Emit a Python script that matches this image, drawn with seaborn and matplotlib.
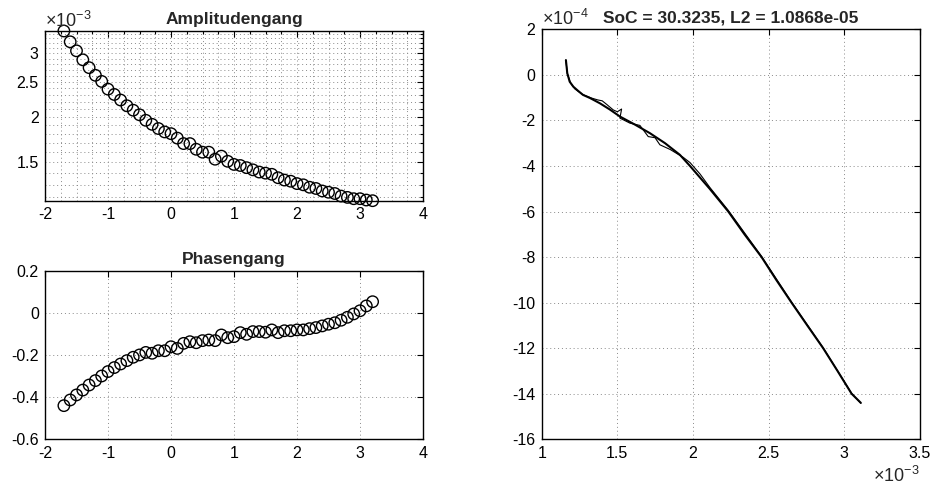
import numpy as np
import pandas as pd
import matplotlib
matplotlib.use("Agg")
import matplotlib.pyplot as plt
import matplotlib.ticker as mticker
import seaborn as sns

# ---------------- data ----------------
log_freq = [-1.7, -1.6, -1.5, -1.4, -1.3, -1.2, -1.1, -1.0, -0.9, -0.8,
            -0.7, -0.6, -0.5, -0.4, -0.3, -0.2, -0.1, 0.0, 0.1, 0.2,
            0.3, 0.4, 0.5, 0.6, 0.7, 0.8, 0.9, 1.0, 1.1, 1.2,
            1.3, 1.4, 1.5, 1.6, 1.7, 1.8, 1.9, 2.0, 2.1, 2.2,
            2.3, 2.4, 2.5, 2.6, 2.7, 2.8, 2.9, 3.0, 3.1, 3.2]

# amplitude in units of 1e-3
amplitude_e3 = [3.46, 3.23, 3.05, 2.88, 2.74, 2.61, 2.51, 2.39, 2.31, 2.23,
                2.15, 2.09, 2.03, 1.96, 1.91, 1.86, 1.82, 1.80, 1.75, 1.69,
                1.69, 1.63, 1.60, 1.60, 1.53, 1.56, 1.51, 1.48, 1.47, 1.45,
                1.43, 1.41, 1.40, 1.39, 1.36, 1.34, 1.33, 1.31, 1.30, 1.28,
                1.27, 1.25, 1.24, 1.23, 1.21, 1.20, 1.19, 1.19, 1.18, 1.175]

phase = [-0.440, -0.413, -0.389, -0.366, -0.342, -0.321, -0.299, -0.278, -0.259, -0.242,
         -0.226, -0.210, -0.199, -0.187, -0.191, -0.179, -0.179, -0.160, -0.168, -0.144,
         -0.136, -0.141, -0.131, -0.128, -0.131, -0.104, -0.117, -0.112, -0.093, -0.101,
         -0.088, -0.088, -0.091, -0.080, -0.093, -0.084, -0.084, -0.080, -0.080, -0.074,
         -0.069, -0.061, -0.053, -0.046, -0.034, -0.020, -0.004, 0.011, 0.034, 0.054]

# Nyquist: real part in 1e-3, imaginary part in 1e-4
fit_re_e3 = [1.160, 1.169, 1.185, 1.209, 1.240, 1.273, 1.320, 1.385, 1.450, 1.517,
             1.615, 1.715, 1.815, 1.913, 1.980, 2.110, 2.233, 2.340, 2.453, 2.550,
             2.651, 2.755, 2.860, 2.955, 3.048, 3.109]
fit_im_e4 = [0.65, 0.07, -0.30, -0.52, -0.70, -0.88, -1.02, -1.25, -1.52, -1.83,
             -2.18, -2.56, -3.00, -3.51, -4.00, -5.00, -6.00, -7.00, -8.00, -9.00,
             -10.00, -11.00, -12.00, -13.00, -14.00, -14.40]

meas_re_e3 = [1.160, 1.170, 1.190, 1.220, 1.270, 1.330, 1.370, 1.400, 1.430, 1.473,
              1.500, 1.528, 1.517, 1.583, 1.649, 1.704, 1.749, 1.781, 1.850, 1.892,
              1.935, 1.980, 2.046, 2.112, 2.233, 2.453, 2.651, 2.860, 3.048, 3.109]
meas_im_e4 = [0.60, 0.05, -0.35, -0.62, -0.86, -1.02, -1.10, -1.14, -1.30, -1.54,
              -1.62, -1.50, -1.90, -2.12, -2.22, -2.71, -2.76, -3.07, -3.28, -3.45,
              -3.62, -3.85, -4.35, -4.95, -5.95, -7.97, -9.97, -11.98, -13.98, -14.42]

title_amp = "Amplitudengang"
title_phase = "Phasengang"
title_nyq = "SoC = 30.3235, L2 = 1.0868e-05"

# ---------------- style ----------------
sns.set_theme(style="white")
plt.rcParams["font.family"] = ["Liberation Sans", "DejaVu Sans"]
plt.rcParams["axes.unicode_minus"] = False
plt.rcParams["mathtext.fontset"] = "custom"
plt.rcParams["mathtext.rm"] = "Liberation Sans"
plt.rcParams["mathtext.it"] = "Liberation Sans"
plt.rcParams["mathtext.bf"] = "Liberation Sans:bold"
plt.rcParams["xtick.direction"] = "in"
plt.rcParams["ytick.direction"] = "in"

W, H = 930, 488
fig = plt.figure(figsize=(W / 100, H / 100), dpi=100)
fig.patch.set_facecolor("white")


def pos(x0, y0, x1, y1):
    return [x0 / W, 1 - y1 / H, (x1 - x0) / W, (y1 - y0) / H]


ax1 = fig.add_axes(pos(45, 31, 423, 200.7))
ax2 = fig.add_axes(pos(45, 271, 423, 439.3))
ax3 = fig.add_axes(pos(541.7, 29.3, 920, 439.3))

grid_kw = dict(color="#8a8a8a", linestyle=(0, (1, 3)), linewidth=0.7)
TICK_FS = 11.5
TITLE_FS = 12.5
EXP_FS = 13


def style_axes(ax):
    ax.set_facecolor("white")
    for s in ax.spines.values():
        s.set_visible(True)
        s.set_color("black")
        s.set_linewidth(1.0)
    ax.tick_params(which="both", direction="in", top=True, right=True,
                   colors="black", labelsize=TICK_FS, length=4, width=0.8, pad=4.5)
    ax.tick_params(which="minor", length=2)
    ax.set_xlabel("")
    ax.set_ylabel("")


df = pd.DataFrame({"f": log_freq, "amp": amplitude_e3, "ph": phase})

# --- Amplitudengang ---
sns.scatterplot(data=df, x="f", y="amp", ax=ax1, marker="o", s=68,
                facecolors="none", edgecolor="black", linewidth=1.0, zorder=3,
                clip_on=False)
ax1.set_yscale("log")
ax1.set_xlim(-2, 4)
ax1.set_ylim(1.175, 3.46)
ax1.xaxis.set_major_locator(mticker.MultipleLocator(1))
ax1.xaxis.set_minor_locator(mticker.MultipleLocator(0.25))
ax1.yaxis.set_major_locator(mticker.FixedLocator([1.5, 2, 2.5, 3]))
ax1.yaxis.set_major_formatter(mticker.FixedFormatter(["1.5", "2", "2.5", "3"]))
ax1.yaxis.set_minor_locator(mticker.FixedLocator(
    [v / 10 for v in range(12, 35) if v not in (15, 20, 25, 30)]))
ax1.yaxis.set_minor_formatter(mticker.NullFormatter())
ax1.grid(True, which="both", **grid_kw)
style_axes(ax1)
ax1.set_title(title_amp, fontsize=TITLE_FS, fontweight="bold", pad=5)
ax1.text(0.0, 1.0, r"$\times10^{-3}$", transform=ax1.transAxes,
         ha="left", va="bottom", fontsize=EXP_FS)

# --- Phasengang ---
sns.scatterplot(data=df, x="f", y="ph", ax=ax2, marker="o", s=68,
                facecolors="none", edgecolor="black", linewidth=1.0, zorder=3)
ax2.set_xlim(-2, 4)
ax2.set_ylim(-0.6, 0.2)
ax2.xaxis.set_major_locator(mticker.MultipleLocator(1))
ax2.yaxis.set_major_locator(mticker.MultipleLocator(0.2))
ax2.yaxis.set_major_formatter(mticker.FuncFormatter(
    lambda v, p: "0" if abs(v) < 1e-9 else f"{v:.1f}"))
ax2.grid(True, which="major", **grid_kw)
style_axes(ax2)
ax2.set_title(title_phase, fontsize=TITLE_FS, fontweight="bold", pad=5)

# --- Nyquist ---
sns.lineplot(x=meas_re_e3, y=meas_im_e4, ax=ax3, sort=False, estimator=None,
             color="black", linewidth=0.8)
sns.lineplot(x=fit_re_e3, y=fit_im_e4, ax=ax3, sort=False, estimator=None,
             color="black", linewidth=1.5)
ax3.set_xlim(1, 3.5)
ax3.set_ylim(-16, 2)
ax3.xaxis.set_major_locator(mticker.MultipleLocator(0.5))
ax3.yaxis.set_major_locator(mticker.MultipleLocator(2))
ax3.xaxis.set_major_formatter(mticker.FuncFormatter(lambda v, p: f"{v:g}"))
ax3.yaxis.set_major_formatter(mticker.FuncFormatter(lambda v, p: f"{v:g}"))
ax3.grid(True, which="major", **grid_kw)
style_axes(ax3)
ax3.set_title(title_nyq, fontsize=TITLE_FS, fontweight="bold", pad=5)
ax3.text(0.0, 1.0, r"$\times10^{-4}$", transform=ax3.transAxes,
         ha="left", va="bottom", fontsize=EXP_FS)
fig.text(920 / W, 2 / H, r"$\times10^{-3}$", ha="right", va="bottom",
         fontsize=EXP_FS)

fig.savefig("out.png", dpi=100, facecolor="white")
